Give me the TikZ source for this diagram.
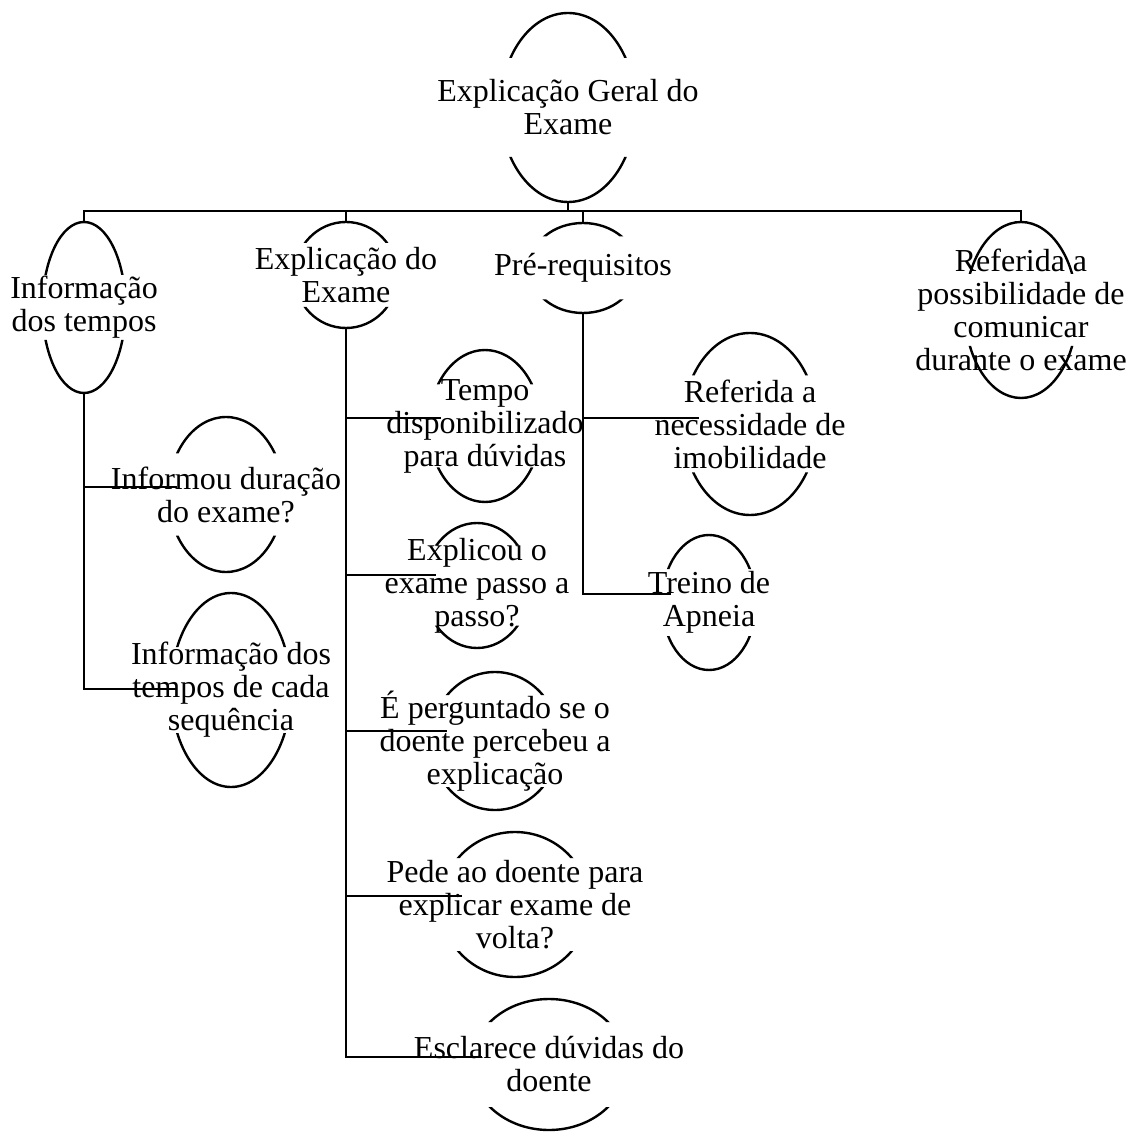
\documentclass[tikz,border=0pt]{standalone}
\usepackage{fontspec}
\setmainfont{Liberation Serif}
\usetikzlibrary{shapes.geometric, calc}

\begin{document}
\begin{tikzpicture}[
            x=0.5pt, y=-0.5pt,
            oval/.style={ellipse, draw, line width=1.2pt, inner sep=0pt},
            oval text/.style={font=\fontsize{16pt}{16.5pt}\selectfont, align=center, inner sep=0pt},
            link/.style={line width=1.2pt},
        ]

        % Canvas
        \useasboundingbox (0,0) rectangle (1134,1133);

        % Ovals: name / x / y / x radius / y radius / half gap / text
        \foreach \nm/\cx/\cy/\rx/\ry/\gap/\txt in {
            A/568/107.5/67.5/94.5/49.5/{Explicação Geral do\\Exame},
            B/84/307.5/41.5/85.5/32.5/{Informação\\dos tempos},
            C/346/275/51.5/53/32/{Explicação do\\Exame},
            D/583/268/54/45/31.5/{Pré-requisitos},
            E/1021/310/56/88/36/{Referida a\\possibilidade de\\comunicar\\durante o exame},
            F/750/424/67/91/48.5/{Referida a\\necessidade de\\imobilidade},
            G/709/602.5/47/67.5/33.5/{Treino de\\Apneia},
            H/226/494.5/57.5/77.5/41/{Informou duração\\do exame?},
            I/231/690/60/97/43/{Informação dos\\tempos de cada\\sequência},
            J/485/426/56/76/41.5/{Tempo\\disponibilizado\\para dúvidas},
            K/477/585.5/53/62.5/40/{Explicou o\\exame passo a\\passo?},
            L/495/741/64/69/46/{É perguntado se o\\doente percebeu a\\explicação},
            M/515/904.5/74/72.5/46.5/{Pede ao doente para\\explicar exame de\\volta?},
            N/549/1064.5/77.5/65.5/42.5/{Esclarece dúvidas do\\doente}} {
            \begin{scope}
                \clip (\cx-\rx-4,\cy-\ry-4) rectangle (\cx+\rx+4,\cy-\gap)
                      (\cx-\rx-4,\cy+\gap) rectangle (\cx+\rx+4,\cy+\ry+4);
                \node[oval, minimum width=\rx*1pt, minimum height=\ry*1pt] (\nm) at (\cx,\cy) {};
            \end{scope}
            \node[oval text] (\nm-txt) at (\nm.center) {\txt};
        }

        % Top bus
        \coordinate (bus) at (568,211);
        \draw[link] (A.south) -- (bus);
        \foreach \c in {B, C, D, E}
            \draw[link] (bus) -| (\c.north);

        % Branches
        \foreach \p/\c/\dx/\dy in {B/H/9.5/-7.5, B/I/7/-1, C/J/13/-8, C/K/13.5/-10.5, C/L/17/-10,
                                   C/M/22/-8.5, C/N/11.5/-7.5, D/F/17/-6, D/G/10/-8.5}
            \draw[link] (\p.south) |- ([shift={(\dx,\dy)}]\c.west);

        \end{tikzpicture}
\end{document}
